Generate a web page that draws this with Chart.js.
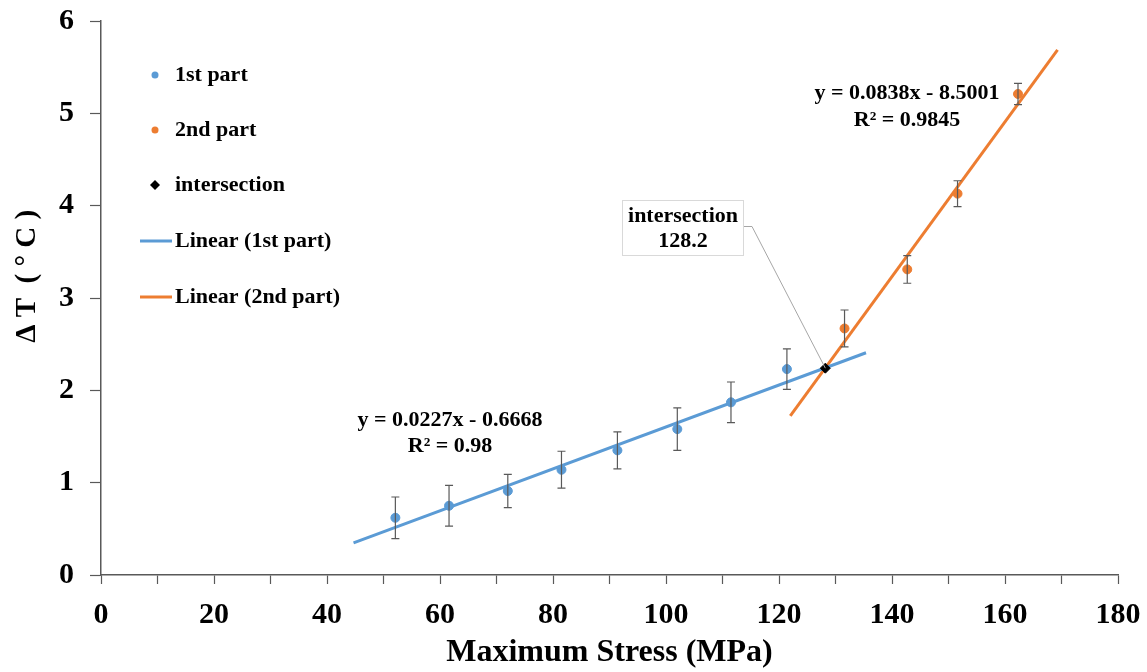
<!DOCTYPE html>
<html>
<head>
<meta charset="utf-8">
<script src="https://cdn.jsdelivr.net/npm/chart.js@4/dist/chart.umd.min.js"></script>
<style>
  html, body { margin: 0; padding: 0; background: #fff; }
  #wrap { width: 1147px; height: 672px; }
</style>
</head>
<body>
<div id="wrap"><canvas id="grafico"></canvas></div>
<script>
// measurements, 1st part (below the knee)
const part1X = [52.1, 61.6, 72.0, 81.5, 91.4, 102.0, 111.5, 121.4];
const part1Y = [0.62, 0.75, 0.91, 1.14, 1.35, 1.58, 1.87, 2.23];
const part1Err = [0.225, 0.22, 0.18, 0.2, 0.2, 0.23, 0.22, 0.22];

// measurements, 2nd part (above the knee)
const part2X = [131.6, 142.7, 151.6, 162.3];
const part2Y = [2.67, 3.31, 4.13, 5.21];
const part2Err = [0.2, 0.15, 0.14, 0.115];

// linear fits: [slope, intercept], drawn over [from, to]
const fit1 = [0.0227, -0.6668];
const fit1Range = [44.7, 135.4];
const fit2 = [0.0838, -8.5001];
const fit2Range = [122.0, 169.3];

const crossX = 128.2;
const crossY = 2.24;

const xTicks = [0, 20, 40, 60, 80, 100, 120, 140, 160, 180];
const yTicks = [0, 1, 2, 3, 4, 5, 6];

const blue = '#5B9BD5';
const orange = '#ED7D31';
const grey = '#595959';
const serif = '"Liberation Serif", "Times New Roman", serif';

function pts(xs, ys) {
    return xs.map(function (x, i) { return { x: x, y: ys[i] }; });
}

function fitLine(fit, range) {
    return range.map(function (x) { return { x: x, y: fit[0] * x + fit[1] }; });
}

// error bars drawn on top of the markers
const errorBars = {
    id: 'errorBars',
    afterDatasetsDraw(chart) {
        const ctx = chart.ctx;
        const xs = chart.scales.x, ys = chart.scales.y;
        const sets = [[part1X, part1Y, part1Err], [part2X, part2Y, part2Err]];
        ctx.save();
        ctx.strokeStyle = grey;
        ctx.lineWidth = 1.2;
        sets.forEach(function (s) {
            s[0].forEach(function (x, i) {
                const px = xs.getPixelForValue(x);
                const top = ys.getPixelForValue(s[1][i] + s[2][i]);
                const bot = ys.getPixelForValue(s[1][i] - s[2][i]);
                ctx.beginPath();
                ctx.moveTo(px, top); ctx.lineTo(px, bot);
                ctx.moveTo(px - 4, top); ctx.lineTo(px + 4, top);
                ctx.moveTo(px - 4, bot); ctx.lineTo(px + 4, bot);
                ctx.stroke();
            });
        });
        ctx.restore();
    }
};

// legend, equations and the callout box
const labelsPlugin = {
    id: 'labelsPlugin',
    afterDraw(chart) {
        const ctx = chart.ctx;
        const xs = chart.scales.x, ys = chart.scales.y;
        ctx.save();
        ctx.font = 'bold 22px ' + serif;
        ctx.fillStyle = '#000';
        ctx.textBaseline = 'middle';

        const items = [
            { y: 75, kind: 'dot', color: blue, text: '1st part' },
            { y: 130, kind: 'dot', color: orange, text: '2nd part' },
            { y: 185, kind: 'diamond', color: '#000', text: 'intersection' },
            { y: 241, kind: 'line', color: blue, text: 'Linear (1st part)' },
            { y: 297, kind: 'line', color: orange, text: 'Linear (2nd part)' }
        ];
        items.forEach(function (it) {
            ctx.fillStyle = it.color;
            ctx.strokeStyle = it.color;
            if (it.kind === 'dot') {
                ctx.beginPath(); ctx.arc(155, it.y, 3.5, 0, Math.PI * 2); ctx.fill();
            } else if (it.kind === 'diamond') {
                ctx.beginPath();
                ctx.moveTo(155, it.y - 5); ctx.lineTo(160, it.y);
                ctx.lineTo(155, it.y + 5); ctx.lineTo(150, it.y);
                ctx.closePath(); ctx.fill();
            } else {
                ctx.lineWidth = 3;
                ctx.beginPath(); ctx.moveTo(140, it.y); ctx.lineTo(172, it.y); ctx.stroke();
            }
            ctx.fillStyle = '#000';
            ctx.textAlign = 'left';
            ctx.fillText(it.text, 175, it.y);
        });

        ctx.textAlign = 'center';
        ctx.fillText('y = ' + fit1[0] + 'x - ' + Math.abs(fit1[1]), 450, 420);
        ctx.fillText('R\u00b2 = 0.98', 450, 446);
        ctx.fillText('y = ' + fit2[0] + 'x - ' + Math.abs(fit2[1]).toFixed(4), 907, 93);
        ctx.fillText('R\u00b2 = 0.9845', 907, 120);

        // callout pointing to the intersection
        const cx = xs.getPixelForValue(crossX), cy = ys.getPixelForValue(crossY);
        ctx.strokeStyle = '#A6A6A6';
        ctx.lineWidth = 1;
        ctx.beginPath();
        ctx.moveTo(744, 226.5); ctx.lineTo(752, 226.5); ctx.lineTo(cx, cy);
        ctx.stroke();
        ctx.fillStyle = '#fff';
        ctx.fillRect(622, 200, 122, 56);
        ctx.strokeStyle = '#D9D9D9';
        ctx.strokeRect(622.5, 200.5, 121, 55);
        ctx.fillStyle = '#000';
        ctx.fillText('intersection', 683, 216);
        ctx.fillText(String(crossX), 683, 241);
        ctx.restore();
    }
};

const ctx = document.getElementById('grafico');

const chart = new Chart(ctx, {
    type: 'scatter',
    data: {
        datasets: [
            {
                label: 'intersection',
                data: [{ x: crossX, y: crossY }],
                pointStyle: 'rectRot',
                pointRadius: 5,
                backgroundColor: '#000',
                borderColor: '#000'
            },
            {
                label: 'Linear (1st part)',
                type: 'line',
                data: fitLine(fit1, fit1Range),
                borderColor: blue,
                borderWidth: 3,
                pointRadius: 0,
                fill: false
            },
            {
                label: 'Linear (2nd part)',
                type: 'line',
                data: fitLine(fit2, fit2Range),
                borderColor: orange,
                borderWidth: 3,
                pointRadius: 0,
                fill: false
            },
            {
                label: '1st part',
                data: pts(part1X, part1Y),
                pointRadius: 4.5,
                backgroundColor: blue,
                borderColor: blue
            },
            {
                label: '2nd part',
                data: pts(part2X, part2Y),
                pointRadius: 4.5,
                backgroundColor: orange,
                borderColor: orange
            }
        ]
    },
    options: {
        responsive: true,
        maintainAspectRatio: false,
        animation: false,
        layout: { padding: { top: 21, right: 29, left: 0, bottom: 0 } },
        scales: {
            x: {
                type: 'linear',
                min: 0,
                max: 180,
                afterFit: function (scale) {
                    scale.height = 97;
                    scale.paddingLeft = 0;
                    scale.paddingRight = 0;
                },
                afterBuildTicks: function (scale) {
                    const t = [];
                    for (let v = 0; v <= 180; v += 10) t.push({ value: v });
                    scale.ticks = t;
                },
                ticks: {
                    autoSkip: false,
                    maxRotation: 0,
                    padding: 13,
                    color: '#000',
                    font: { family: serif, size: 30, weight: 'bold' },
                    callback: function (v) { return xTicks.indexOf(v) >= 0 ? v : ''; }
                },
                grid: { drawOnChartArea: false, tickLength: 9, color: grey, tickWidth: 1.2 },
                border: { color: grey, width: 1.5 },
                title: {
                    display: true,
                    text: 'Maximum Stress (MPa)',
                    color: '#000',
                    padding: { top: 0, bottom: 0 },
                    font: { family: serif, size: 32, weight: 'bold' }
                }
            },
            y: {
                min: 0,
                max: 6,
                afterFit: function (scale) {
                    scale.width = 101;
                    scale.paddingTop = 0;
                    scale.paddingBottom = 0;
                },
                afterBuildTicks: function (scale) {
                    scale.ticks = yTicks.map(function (v) { return { value: v }; });
                },
                ticks: {
                    padding: 16,
                    color: '#000',
                    font: { family: serif, size: 30, weight: 'bold' }
                },
                grid: { drawOnChartArea: false, tickLength: 11, color: grey, tickWidth: 1.2 },
                border: { color: grey, width: 1.5 },
                title: {
                    display: true,
                    // leading blanks lift the rotated title a little above the axis middle
                    text: '      \u0394 T  ( \u00b0 C )',
                    color: '#000',
                    padding: { top: 10, bottom: 0 },
                    font: { family: serif, size: 29, weight: 'bold' }
                }
            }
        },
        plugins: {
            legend: { display: false },
            tooltip: { enabled: false }
        }
    },
    plugins: [errorBars, labelsPlugin]
});
</script>
</body>
</html>
